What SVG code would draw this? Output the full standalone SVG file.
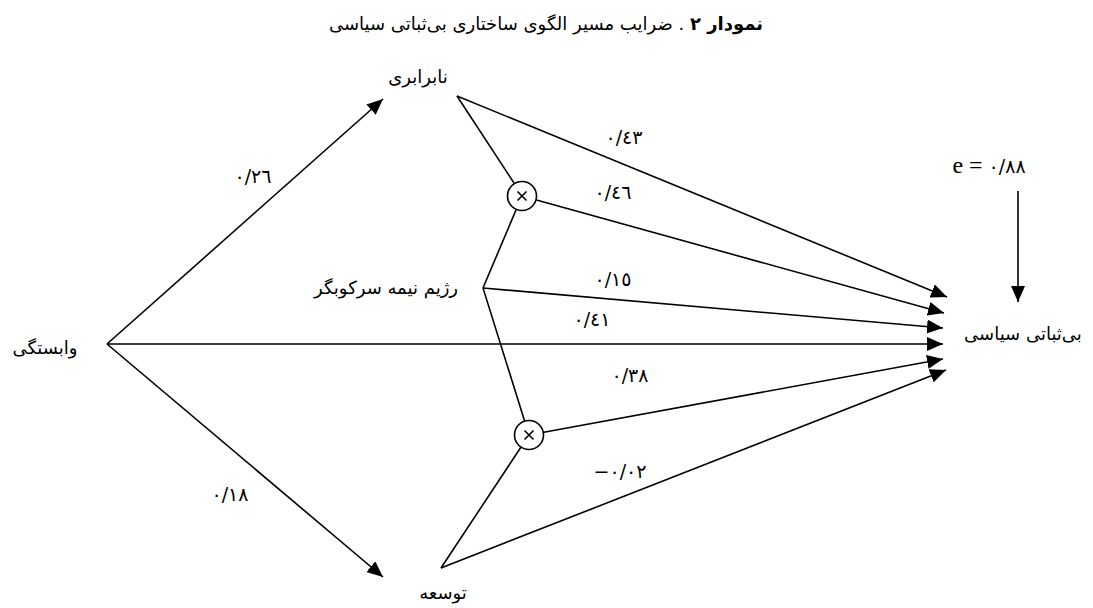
<svg xmlns="http://www.w3.org/2000/svg" width="1093" height="608" viewBox="0 0 1093 608">
<defs>
<marker id="ah" markerUnits="userSpaceOnUse" markerWidth="16" markerHeight="14" refX="16" refY="7" orient="auto">
<path d="M0,0 L16,7 L0,14 z" fill="#000"/>
</marker>
<style>
.ln{stroke:#000;stroke-width:1.6;fill:none}
.ar{stroke:#000;stroke-width:1.6;fill:none;marker-end:url(#ah)}
.fa{font-family:"DejaVu Sans",sans-serif;font-size:18px;fill:#000}
.num{font-family:"DejaVu Sans",sans-serif;font-size:19px;fill:#000}
.ttl{font-family:"DejaVu Sans",sans-serif;font-size:18px;fill:#000}
.circ{stroke:#000;stroke-width:1.6;fill:#fff}
</style>
</defs>
<rect width="1093" height="608" fill="#fff"/>

<text class="ttl" x="546" y="30" text-anchor="middle" direction="rtl" unicode-bidi="embed"><tspan font-weight="bold">نمودار ٢</tspan> . ضرایب مسیر الگوی ساختاری بی‌ثباتی سیاسی</text>

<g id="connectors">
<line class="ar" x1="107" y1="344" x2="383" y2="99"/>
<line class="ar" x1="107" y1="344" x2="383" y2="577"/>
<line class="ar" x1="107" y1="344" x2="943" y2="344"/>
<line class="ar" x1="457" y1="96" x2="947" y2="297"/>
<line class="ln" x1="457" y1="96" x2="514" y2="183"/>
<line class="ln" x1="516" y1="210" x2="483" y2="288"/>
<line class="ln" x1="483" y1="288" x2="524.5" y2="420.7"/>
<line class="ar" x1="536.5" y1="200" x2="944" y2="313"/>
<line class="ar" x1="483" y1="288" x2="943" y2="328"/>
<line class="ar" x1="543.8" y1="432.3" x2="943" y2="359"/>
<line class="ln" x1="520.7" y1="447.5" x2="441" y2="568"/>
<line class="ar" x1="441" y1="568" x2="946" y2="370"/>
<line class="ar" x1="1018" y1="191" x2="1018" y2="302"/>
</g>

<g id="mult1">
<circle class="circ" cx="522" cy="196" r="14.5"/>
<path class="ln" d="M517.5,191.5 L526.5,200.5 M526.5,191.5 L517.5,200.5" stroke-width="1.3"/>
</g>
<g id="mult2">
<circle class="circ" cx="529" cy="435" r="14.5"/>
<path class="ln" d="M524.5,430.5 L533.5,439.5 M533.5,430.5 L524.5,439.5" stroke-width="1.3"/>
</g>

<g id="node-dependency"><text class="fa" x="45" y="354" text-anchor="middle" direction="rtl">وابستگی</text></g>
<g id="node-inequality"><text class="fa" x="418" y="83" text-anchor="middle" direction="rtl">نابرابری</text></g>
<g id="node-development"><text class="fa" x="443" y="599" text-anchor="middle" direction="rtl">توسعه</text></g>
<g id="node-regime"><text class="fa" x="386" y="294" text-anchor="middle" direction="rtl">رژیم نیمه سرکوبگر</text></g>
<g id="node-instability"><text class="fa" x="1023" y="340" text-anchor="middle" direction="rtl">بی‌ثباتی سیاسی</text></g>
<g id="node-error"><text class="num" x="989" y="173" text-anchor="middle" direction="ltr" unicode-bidi="bidi-override"><tspan font-family="Liberation Serif" font-size="24">e =</tspan> ٠/٨٨</text></g>

<g id="labels">
<text class="num" x="253" y="183" text-anchor="middle" direction="ltr" unicode-bidi="bidi-override">٠/٢٦</text>
<text class="num" x="230" y="501" text-anchor="middle" direction="ltr" unicode-bidi="bidi-override">٠/١٨</text>
<text class="num" x="624" y="144" text-anchor="middle" direction="ltr" unicode-bidi="bidi-override">٠/٤٣</text>
<text class="num" x="613" y="199" text-anchor="middle" direction="ltr" unicode-bidi="bidi-override">٠/٤٦</text>
<text class="num" x="613" y="286" text-anchor="middle" direction="ltr" unicode-bidi="bidi-override">٠/١٥</text>
<text class="num" x="592" y="326" text-anchor="middle" direction="ltr" unicode-bidi="bidi-override">٠/٤١</text>
<text class="num" x="630" y="382" text-anchor="middle" direction="ltr" unicode-bidi="bidi-override">٠/٣٨</text>
<text class="num" x="620" y="478" text-anchor="middle" direction="ltr" unicode-bidi="bidi-override">−٠/٠٢</text>
</g>
</svg>
